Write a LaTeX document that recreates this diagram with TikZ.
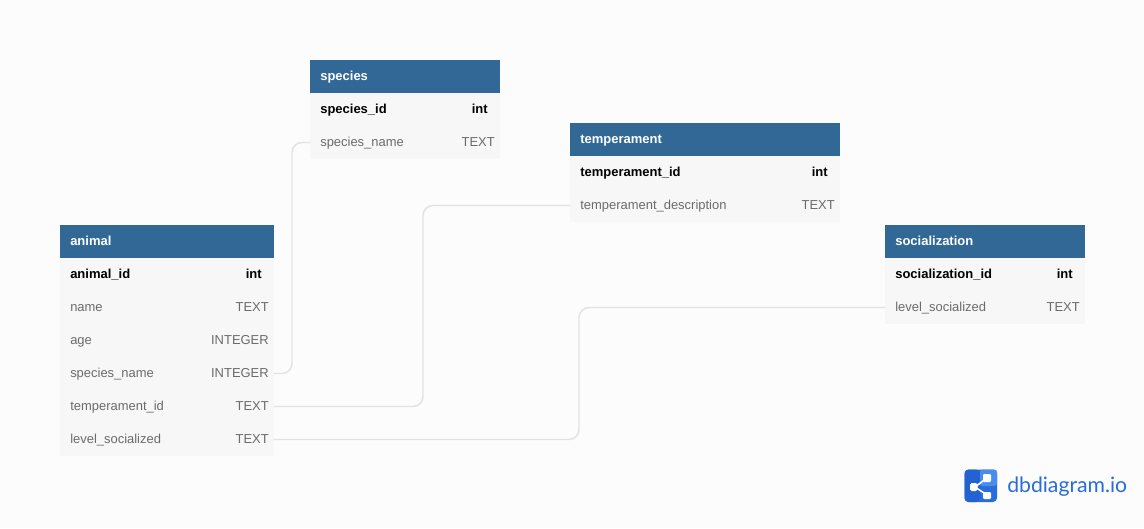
\documentclass[tikz,border=0pt]{standalone}
\usepackage{fontspec}
\setmainfont{Liberation Sans}
\newfontfamily\logofont{Lato}
\definecolor{pagebg}{HTML}{FCFCFC}
\definecolor{headblue}{HTML}{316896}
\definecolor{rowbg}{HTML}{F7F7F7}
\definecolor{rowtext}{HTML}{6B6B6B}
\definecolor{linkgrey}{HTML}{E2E2E2}
\definecolor{logoblue}{HTML}{2A6CDA}
\definecolor{logodark}{HTML}{2362D0}
\definecolor{logolight}{HTML}{4A8BEE}
\tikzset{
  x=0.75pt,y=-0.75pt,
  box/.style={draw=none,inner sep=0pt,outer sep=0pt,anchor=north west,minimum height=24.75pt},
  headbox/.style={box,fill=headblue},
  rowbox/.style={box,fill=rowbg},
  headtext/.style={anchor=base west,inner sep=0pt,text=white,font=\fontsize{9.75}{11}\selectfont\bfseries},
  keytext/.style={anchor=base west,inner sep=0pt,text=black,font=\fontsize{9.75}{11}\selectfont\bfseries},
  keytype/.style={anchor=base east,inner sep=0pt,text=black,font=\fontsize{9.75}{11}\selectfont\bfseries},
  fieldtext/.style={anchor=base west,inner sep=0pt,text=rowtext,font=\fontsize{9.72}{11}\selectfont},
  fieldtype/.style={anchor=base east,inner sep=0pt,text=rowtext,font=\fontsize{9.72}{11}\selectfont},
  link/.style={draw=linkgrey,line width=1.1pt,rounded corners=7.5pt},
}
\newcommand{\headrow}[5]{% name, x, y, width(px), text
  \node[headbox,minimum width=#4*0.75pt] (#1) at (#2,#3) {};
  \node[headtext] (#1t) at (#2+10,#3+20) {#5};
}
\newcommand{\keyrow}[6]{% name, x, y, width, text, type
  \node[rowbox,minimum width=#4*0.75pt] (#1) at (#2,#3) {};
  \node[keytext] (#1n) at (#2+10,#3+20) {#5};
  \node[keytype] (#1v) at (#2+#4-12,#3+20) {#6};
}
\newcommand{\fieldrow}[6]{%
  \node[rowbox,minimum width=#4*0.75pt] (#1) at (#2,#3) {};
  \node[fieldtext] (#1n) at (#2+10,#3+20) {#5};
  \node[fieldtype] (#1v) at (#2+#4-5,#3+20) {#6};
}
\begin{document}
\begin{tikzpicture}
\path[use as bounding box,fill=pagebg] (0,0) rectangle (1144,528);
% species
\headrow{sp}{310}{60}{190}{species}
\keyrow{spa}{310}{93}{190}{species\_id}{int}
\fieldrow{spb}{310}{126}{190}{species\_name}{TEXT}
% temperament
\headrow{te}{570}{123}{270}{temperament}
\keyrow{tea}{570}{156}{270}{temperament\_id}{int}
\fieldrow{teb}{570}{189}{270}{temperament\_description}{TEXT}
% socialization
\headrow{so}{885}{225}{200}{socialization}
\keyrow{soa}{885}{258}{200}{socialization\_id}{int}
\fieldrow{sob}{885}{291}{200}{level\_socialized}{TEXT}
% animal
\headrow{an}{60}{225}{214}{animal}
\keyrow{ana}{60}{258}{214}{animal\_id}{int}
\fieldrow{anb}{60}{291}{214}{name}{TEXT}
\fieldrow{anc}{60}{324}{214}{age}{INTEGER}
\fieldrow{and}{60}{357}{214}{species\_name}{INTEGER}
\fieldrow{ane}{60}{390}{214}{temperament\_id}{TEXT}
\fieldrow{anf}{60}{423}{214}{level\_socialized}{TEXT}
% connectors
\coordinate (bendsp) at (292,250);
\coordinate (bendte) at (423,300);
\coordinate (bendso) at (579,370);
\draw[link] (and.east) -| (bendsp) |- (spb.west);
\draw[link] (ane.east) -| (bendte) |- (teb.west);
\draw[link] (anf.east) -| (bendso) |- (sob.west);
% logo
\fill[logoblue,rounded corners=3pt] (964.5,469.5) rectangle (997,502);
\fill[logodark,rounded corners=3pt] (964.5,469.5) rectangle (980,502);
\fill[logolight,rounded corners=2pt] (980,469.5) rectangle (997,486);
\draw[white,line width=1.2pt] (975,487) -- (987,478) (975,487) -- (987,495);
\fill[white,rounded corners=1.2pt] (970,483) rectangle (977.5,491);
\fill[white,rounded corners=0.8pt] (983,474) rectangle (991,482);
\fill[white,rounded corners=0.8pt] (983,492) rectangle (991,499);
\node[anchor=base west,inner sep=0pt,text=logoblue,font=\logofont\fontsize{15.9}{18}\selectfont] (brand) at (1007,492) {dbdiagram.io};
\end{tikzpicture}
\end{document}
